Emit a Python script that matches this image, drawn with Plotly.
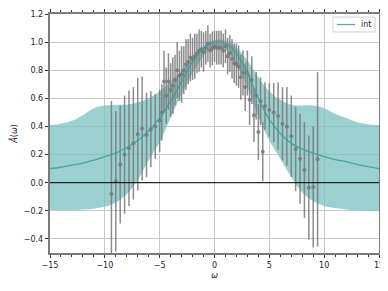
import plotly.graph_objects as go

# ---- band / curve (int) ----
w_grid = [-15, -14, -13, -12, -11, -10, -9, -8, -7, -6, -5, -4, -3, -2, -1, 0,
          1, 2, 3, 4, 5, 6, 7, 8, 9, 10, 11, 12, 13, 14, 15]
a_center = [0.10, 0.11, 0.125, 0.14, 0.16, 0.185, 0.21, 0.25, 0.30, 0.37, 0.46, 0.58, 0.72, 0.86, 0.96, 1.00,
            0.99, 0.92, 0.78, 0.60, 0.45, 0.35, 0.28, 0.24, 0.21, 0.185, 0.165, 0.15, 0.13, 0.115, 0.10]
a_upper = [0.41, 0.42, 0.44, 0.48, 0.53, 0.55, 0.555, 0.555, 0.57, 0.60, 0.65, 0.72, 0.80, 0.89, 0.97, 1.015,
           1.01, 0.96, 0.87, 0.75, 0.65, 0.59, 0.555, 0.55, 0.55, 0.53, 0.49, 0.46, 0.43, 0.415, 0.41]
a_lower = [-0.195, -0.195, -0.195, -0.19, -0.185, -0.17, -0.14, -0.08, 0.02, 0.16, 0.29, 0.46, 0.63, 0.78, 0.90, 0.97,
           0.95, 0.84, 0.68, 0.47, 0.30, 0.17, 0.04, -0.07, -0.13, -0.165, -0.18, -0.19, -0.195, -0.2, -0.2]

# ---- data points with error bars (set 1) ----
w_data1 = [-9.4, -9.0, -8.6, -8.2, -7.8, -7.4, -7.0, -6.6, -6.2, -5.8, -5.4, -5.0,
           -4.6, -4.2, -3.8, -3.4, -3.0, -2.6, -2.2, -1.8, -1.4, -1.0, -0.6, -0.2,
           0.2, 0.6, 1.0, 1.4, 1.8, 2.2, 2.6, 3.0, 3.4, 3.8, 4.2, 4.6,
           5.0, 5.4, 5.8, 6.2, 6.6, 7.0, 7.4, 7.8, 8.2, 8.6, 9.0, 9.4]
a_data1 = [-0.08, 0.01, 0.13, 0.20, 0.245, 0.28, 0.345, 0.385, 0.34, 0.38, 0.40, 0.44,
           0.72, 0.72, 0.69, 0.80, 0.77, 0.84, 0.89, 0.90, 0.94, 0.93, 0.99, 0.955,
           0.96, 0.96, 0.97, 0.92, 0.85, 0.825, 0.78, 0.78, 0.73, 0.62, 0.58, 0.545,
           0.517, 0.50, 0.474, 0.42, 0.40, 0.33, 0.24, 0.17, 0.09, -0.035, -0.03, 0.166]
e_data1 = [0.66, 0.50, 0.42, 0.42, 0.41, 0.40, 0.40, 0.37, 0.30, 0.27, 0.23, 0.22,
           0.22, 0.20, 0.20, 0.20, 0.20, 0.18, 0.17, 0.16, 0.15, 0.14, 0.13, 0.12,
           0.12, 0.12, 0.12, 0.13, 0.14, 0.15, 0.16, 0.16, 0.17, 0.17, 0.17, 0.17,
           0.19, 0.21, 0.24, 0.26, 0.28, 0.29, 0.30, 0.32, 0.34, 0.37, 0.43, 0.62]

# ---- data points with error bars (set 2) ----
w_data2 = [-4.8, -4.4, -4.0, -3.6, -3.2, -2.8, -2.4, -2.0, -1.6, -1.2, -0.8, -0.4,
           0.0, 0.4, 0.8, 1.2, 1.6, 2.0, 2.4, 2.8, 3.2, 3.6, 4.0, 4.4]
a_data2 = [0.50, 0.62, 0.66, 0.73, 0.76, 0.80, 0.86, 0.88, 0.92, 0.95, 0.96, 0.94,
           0.97, 0.96, 0.94, 0.90, 0.88, 0.84, 0.75, 0.68, 0.59, 0.48, 0.36, 0.22]
e_data2 = [0.20, 0.20, 0.19, 0.18, 0.18, 0.17, 0.16, 0.15, 0.14, 0.13, 0.12, 0.12,
           0.11, 0.12, 0.12, 0.13, 0.14, 0.15, 0.16, 0.17, 0.18, 0.19, 0.20, 0.21]

x_ticks = [-15, -10, -5, 0, 5, 10, 15]
x_ticklabels = ["\u221215", "\u221210", "\u22125", "0", "5", "10", "15"]
y_ticks = [-0.4, -0.2, 0.0, 0.2, 0.4, 0.6, 0.8, 1.0, 1.2]
y_ticklabels = ["\u22120.4", "\u22120.2", "0.0", "0.2", "0.4", "0.6", "0.8", "1.0", "1.2"]
legend_label = "int"

band_fill = "rgba(120,192,192,0.75)"
line_col = "rgba(55,158,158,0.85)"
gray = "rgba(120,120,120,0.85)"

fig = go.Figure()

fig.add_trace(go.Scatter(x=w_grid, y=a_lower, mode="lines", line=dict(color="rgba(0,0,0,0)", width=0, shape="spline"),
                         showlegend=False, hoverinfo="skip"))
fig.add_trace(go.Scatter(x=w_grid, y=a_upper, mode="lines", line=dict(color="rgba(0,0,0,0)", width=0, shape="spline"),
                         fill="tonexty", fillcolor=band_fill, showlegend=False, hoverinfo="skip"))

for wd, ad, ed in [(w_data1, a_data1, e_data1), (w_data2, a_data2, e_data2)]:
    fig.add_trace(go.Scatter(x=wd, y=ad, mode="markers",
                             marker=dict(color=gray, size=4),
                             error_y=dict(type="data", array=ed, color=gray, thickness=1.5, width=0),
                             showlegend=False))

fig.add_trace(go.Scatter(x=w_grid, y=a_center, mode="lines", name=legend_label, showlegend=False,
                         line=dict(color=line_col, width=1.3, shape="spline")))

# horizontal zero line
fig.add_shape(type="line", xref="paper", yref="y", x0=0, x1=1, y0=0, y1=0,
              line=dict(color="black", width=1))

# compact legend (matplotlib-style) in the upper right corner
fig.add_shape(type="rect", xref="paper", yref="paper", x0=0.86, x1=0.988, y0=0.925, y1=0.987,
              line=dict(color="#d0d0d0", width=1), fillcolor="rgba(255,255,255,0.85)", layer="above")
fig.add_shape(type="line", xref="paper", yref="paper", x0=0.872, x1=0.927, y0=0.956, y1=0.956,
              line=dict(color=line_col, width=1.3), layer="above")
fig.add_annotation(xref="paper", yref="paper", x=0.940, y=0.956, xanchor="left", yanchor="middle",
                   text=legend_label, showarrow=False, font=dict(family="DejaVu Sans", size=8, color="#222"))

axis_common = dict(showline=True, linecolor="#7a7a7a", linewidth=1.5, mirror="ticks",
                   ticks="outside", ticklen=3.5, tickwidth=1, tickcolor="#333",
                   showgrid=True, gridcolor="#c8c8c8", gridwidth=0.8, zeroline=False,
                   automargin=False,
                   tickfont=dict(family="DejaVu Sans", size=8, color="#222"))

fig.update_xaxes(range=[-15, 15], tickvals=x_ticks, ticktext=x_ticklabels,
                 minor=dict(dtick=1, ticks="outside", ticklen=2, tickcolor="#333", showgrid=False),
                 title=dict(text="<i>\u03c9</i>", font=dict(family="DejaVu Sans", size=8, color="#222"), standoff=4),
                 **axis_common)
fig.update_yaxes(range=[-0.5, 1.2], tickvals=y_ticks, ticktext=y_ticklabels,
                 title=dict(text="<i>\u00c2</i>(<i>\u03c9</i>)", font=dict(family="DejaVu Sans", size=8, color="#222"), standoff=7),
                 **axis_common)

# page body has an 8px default margin, so the figure is sized to fit the 388x291 window
fig.update_layout(
    width=380, height=283,
    margin=dict(l=42, r=9, t=6, b=38, autoexpand=False),
    plot_bgcolor="white", paper_bgcolor="white",
    font=dict(family="DejaVu Sans", size=8, color="#222"),
    showlegend=False,
)

fig.write_html("out.html")
